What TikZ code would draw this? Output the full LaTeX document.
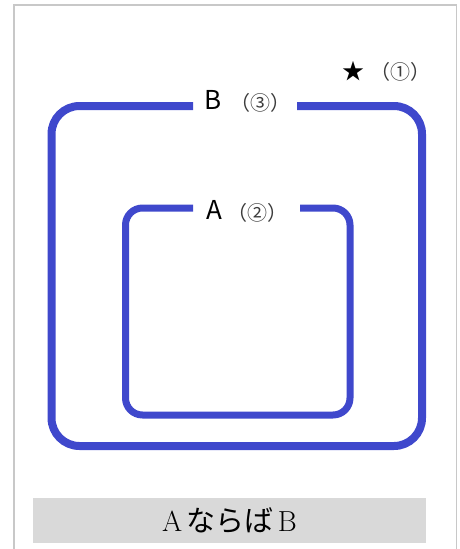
\documentclass[tikz,border=0pt]{standalone}
\usepackage{fontspec}
\newfontfamily\cjk{Noto Sans CJK JP}
\definecolor{ringblue}{RGB}{63,72,204}
\definecolor{framegray}{RGB}{200,200,200}
\definecolor{boxgray}{RGB}{217,217,217}
\definecolor{notegray}{RGB}{60,60,60}
\begin{document}
\begin{tikzpicture}[x=1pt,y=-1pt,
  ring/.style={draw=ringblue, line width=#1, line cap=butt},
  setlabel/.style={anchor=base, inner sep=0pt, font=\cjk\fontsize{26}{26}\selectfont},
  note/.style={anchor=base, inner sep=0pt, text=notegray, font=\cjk\fontsize{20}{20}\selectfont},
  caption/.style={fill=boxgray, minimum width=393pt, minimum height=45.6pt, inner sep=0pt}]
\useasboundingbox (0,0) rectangle (460,549);
% frame
\draw[framegray, line width=1.4pt] (14,549) -- (14,5) -- (456.5,5) -- (456.5,549);
% outer set B
\draw[ring=8pt, rounded corners=28pt] (297,106) -- (422,106) -- (422,446) -- (51.5,446) -- (51.5,106) -- (193,106);
% inner set A
\draw[ring=7pt, rounded corners=17pt] (300,208) -- (350,208) -- (350,415) -- (125.5,415) -- (125.5,208) -- (193,208);
% labels
\node[setlabel] (labB) at (213,109) {B};
\node[note] (noteB) at (260,110) {（③）};
\node[setlabel] (labA) at (214,219) {A};
\node[note] (noteA) at (257,220) {（②）};
\node[anchor=base, inner sep=0pt, font=\cjk\fontsize{22}{22}\selectfont] (star) at (353.5,79) {★};
\node[note] (noteU) at (400,79) {（①）};
% caption
\node[caption] (cap) at (229.5,520.5) {\fontsize{29}{29}\selectfont A\hspace{0.15em}{\cjk ならば}\hspace{0.15em}B};
\end{tikzpicture}
\end{document}
